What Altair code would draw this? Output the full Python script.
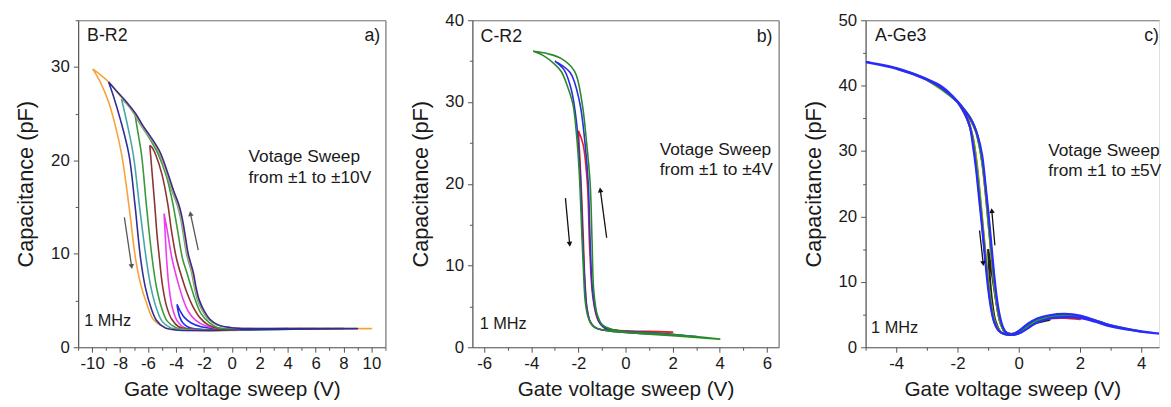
import altair as alt
import pandas as pd

FONT = "Liberation Sans"
AX = "#555555"
FRAME = "#7a7a7a"
TXT = "#1a1a1a"

# ---------------- panel a) B-R2 : sweeps +-4 ... +-10 V ----------------
A_BLUE_DOWN = [(-3.92, 4.6), (-3.85, 3.9), (-3.72, 3.2), (-3.5, 2.6), (-3.1, 2.15), (-2.5, 1.95), (-1.0, 1.85), (0, 1.9), (4, 2.0)]
A_BLUE_UP = [(4, 2.0), (0, 1.95), (-1.2, 2.0), (-2.2, 2.2), (-2.9, 2.6), (-3.4, 3.2), (-3.7, 3.9), (-3.92, 4.6)]
A_MAG_DOWN = [(-4.85, 14.3), (-4.8, 13.0), (-4.67, 9.5), (-4.5, 6.5), (-4.25, 4.2), (-3.9, 2.8), (-3.4, 2.1), (-2.5, 1.9), (-1.0, 1.85), (0, 1.9), (5, 2.0)]
A_MAG_UP = [(5, 2.0), (0, 1.95), (-1.0, 2.0), (-1.9, 2.3), (-2.6, 2.9), (-3.1, 3.8), (-3.5, 5.2), (-3.9, 7.2), (-4.28, 9.5), (-4.6, 12.3), (-4.78, 13.8), (-4.85, 14.3)]
A_BROWN_DOWN = [(-5.87, 21.6), (-5.78, 20.0), (-5.52, 15.3), (-5.35, 12.0), (-5.18, 9.5), (-4.95, 6.5), (-4.65, 4.3), (-4.3, 3.0), (-3.8, 2.2), (-3.0, 1.95), (-1.5, 1.85), (0, 1.9), (6, 2.0)]
A_BROWN_UP = [(6, 2.0), (0, 1.95), (-1.0, 2.05), (-1.7, 2.4), (-2.3, 3.2), (-2.8, 4.4), (-3.2, 5.8), (-3.6, 7.6), (-3.96, 9.5), (-4.32, 12.5), (-4.58, 15.3), (-5.0, 18.5), (-5.45, 20.6), (-5.72, 21.4), (-5.87, 21.6)]
A_GREEN_DOWN = [(-6.94, 25.0), (-6.72, 23.0), (-6.46, 20.6), (-6.1, 15.0), (-5.7, 9.5), (-5.4, 6.5), (-5.02, 4.2), (-4.62, 2.8), (-4.0, 2.1), (-3.0, 1.9), (-1.5, 1.8), (0, 1.85), (7, 2.0)]
A_GREEN_UP = [(7, 2.0), (0, 1.95), (-1.0, 2.1), (-1.6, 2.6), (-2.2, 3.6), (-2.6, 5.0), (-2.92, 6.5), (-3.22, 8.0), (-3.53, 9.5), (-3.88, 12.5), (-4.21, 15.3), (-4.68, 18.3), (-5.25, 20.6), (-5.95, 22.5), (-6.5, 23.8), (-6.94, 25.0)]
A_TEAL_DOWN = [(-7.9, 26.6), (-7.5, 24.0), (-7.05, 20.6), (-6.6, 15.0), (-6.13, 9.5), (-5.8, 6.5), (-5.4, 4.2), (-5.0, 2.8), (-4.4, 2.1), (-3.5, 1.9), (-1.5, 1.8), (0, 1.85), (8, 2.0)]
A_TEAL_UP = [(8, 2.0), (1.3, 2.0), (-0.12, 2.1), (-1.07, 2.4), (-1.68, 3.0), (-2.1, 3.9), (-2.46, 5.1), (-2.69, 6.5), (-2.86, 7.9), (-3.06, 9.0), (-3.24, 10.0), (-3.46, 12.0), (-3.68, 13.9), (-3.92, 15.3), (-4.27, 16.7), (-4.76, 18.9), (-5.26, 20.9), (-5.96, 22.6), (-6.52, 23.8), (-7.0, 25.0), (-7.5, 26.0), (-7.9, 26.6)]
A_ORANGE_DOWN = [(-9.96, 29.8), (-9.42, 28.4), (-8.82, 26.25), (-8.35, 23.8), (-7.88, 20.6), (-7.35, 15.0), (-6.89, 9.5), (-6.5, 6.6), (-6.11, 4.76), (-5.63, 3.0), (-5.04, 2.3), (-4.5, 1.95), (-3.0, 1.8), (-1.0, 1.75), (0, 1.8), (1.0, 1.9), (2.0, 2.0), (10.0, 2.0)]
A_ORANGE_UP = [(10.0, 2.0), (2.0, 2.0), (1.34, 2.0), (-0.08, 2.1), (-1.02, 2.4), (-1.62, 3.0), (-2.04, 3.9), (-2.4, 5.1), (-2.63, 6.5), (-2.8, 7.9), (-3.0, 9.0), (-3.18, 10.0), (-3.4, 12.0), (-3.62, 13.9), (-3.86, 15.3), (-4.21, 16.7), (-4.7, 18.9), (-5.2, 20.9), (-5.9, 22.6), (-6.46, 23.8), (-6.94, 25.0), (-7.5, 26.1), (-8.11, 27.1), (-8.82, 28.4), (-9.96, 29.8)]
A_NAVY_DOWN = [(-8.82, 28.4), (-8.5, 27.0), (-8.0, 24.5), (-7.36, 20.6), (-6.95, 15.5), (-6.53, 9.5), (-6.2, 6.5), (-5.8, 4.3), (-5.4, 2.9), (-4.8, 2.1), (-4.0, 1.85), (-2.0, 1.8), (0, 1.85), (9.0, 2.0)]
A_NAVY_UP = [(9.0, 2.0), (2.0, 2.0), (1.34, 2.0), (-0.05, 2.1), (-0.98, 2.4), (-1.57, 3.0), (-1.98, 3.9), (-2.34, 5.1), (-2.57, 6.5), (-2.74, 7.9), (-2.94, 9.0), (-3.12, 10.0), (-3.34, 12.0), (-3.56, 13.9), (-3.8, 15.3), (-4.15, 16.7), (-4.64, 18.9), (-5.14, 20.9), (-5.84, 22.6), (-6.4, 23.8), (-6.88, 25.0), (-7.45, 26.1), (-8.05, 27.1), (-8.82, 28.4)]

A_CURVES = [
    ("a1", "#1e2ee6", A_BLUE_DOWN, A_BLUE_UP),
    ("a2", "#ee3cee", A_MAG_DOWN, A_MAG_UP),
    ("a3", "#8e3434", A_BROWN_DOWN, A_BROWN_UP),
    ("a4", "#3a9a3a", A_GREEN_DOWN, A_GREEN_UP),
    ("a5", "#45a8a8", A_TEAL_DOWN, A_TEAL_UP),
    ("a6", "#f7a33a", A_ORANGE_DOWN, A_ORANGE_UP),
    ("a7", "#2e2e96", A_NAVY_DOWN, A_NAVY_UP),
]
A_X_MAJOR = [-10, -8, -6, -4, -2, 0, 2, 4, 6, 8, 10]
A_X_MINOR = [-11, -9, -7, -5, -3, -1, 1, 3, 5, 7, 9, 11]
A_Y_MAJOR = [0, 10, 20, 30]
A_Y_MINOR = [5, 15, 25, 35]
A_TEXT_L = [("B-R2", -10.36, 33.3), ("Votage Sweep", 1.2, 20.4), ("from \u00b11 to \u00b110V", 1.2, 18.1), ("1 MHz", -10.57, 2.85)]
A_TEXT_L_SIZE = [18, 17.5, 17.5, 16.5]
A_TEXT_R = [("a)", 10.63, 33.3)]
A_ARROWS = [(-7.69, 13.9, -7.17, 8.64), (-2.40, 10.4, -2.96, 14.3)]
A_ARROW_ANGLE = [172, 348]

# ---------------- panel b) C-R2 : sweeps +-1 ... +-4 V ----------------
B_BLACK_DOWN = [(-1.0, 2.6), (-0.8, 2.2), (-0.4, 2.0), (0, 1.9), (0.5, 1.85), (1, 1.8)]
B_BLACK_UP = [(1, 1.8), (0.5, 1.9), (0, 1.95), (-0.5, 2.1), (-0.8, 2.35), (-1.0, 2.6)]
B_RED_DOWN = [(-2.0, 26.5), (-1.9, 21.0), (-1.8, 14.0), (-1.72, 8.0), (-1.62, 4.5), (-1.45, 2.8), (-1.1, 2.2), (0, 1.95), (1, 1.9), (2, 1.85)]
B_RED_UP = [(2, 1.85), (1, 1.95), (0.2, 2.0), (-0.8, 2.3), (-1.15, 3.2), (-1.38, 6.0), (-1.52, 12.0), (-1.62, 20.0), (-1.8, 24.8), (-2.0, 26.5)]
B_BLUE_DOWN = [(-3.0, 35.0), (-2.6, 33.9), (-2.3, 31.5), (-2.08, 27.5), (-1.92, 21.0), (-1.82, 13.6), (-1.74, 8.5), (-1.65, 5.0), (-1.52, 3.3), (-1.3, 2.4), (-0.9, 2.1), (0, 1.8), (1, 1.65), (2, 1.5), (3, 1.3)]
B_BLUE_UP = [(3, 1.3), (2, 1.6), (1, 1.8), (0, 1.95), (-0.7, 2.2), (-1.05, 2.8), (-1.25, 4.2), (-1.4, 7.0), (-1.5, 13.0), (-1.58, 20.0), (-1.72, 25.0), (-1.95, 30.0), (-2.35, 33.6), (-3.0, 35.0)]
B_GREEN_DOWN = [(-3.92, 36.2), (-3.5, 35.7), (-3.0, 34.6), (-2.72, 33.7), (-2.45, 31.8), (-2.23, 29.7), (-2.08, 26.0), (-1.97, 21.7), (-1.85, 13.6), (-1.78, 9.0), (-1.71, 5.6), (-1.6, 3.8), (-1.46, 2.9), (-1.2, 2.3), (-0.9, 2.1), (0, 1.8), (1, 1.6), (2, 1.4), (3, 1.2), (4, 1.0)]
B_GREEN_UP = [(4, 1.0), (3, 1.3), (2, 1.55), (1, 1.75), (0, 1.9), (-0.6, 2.2), (-1.0, 2.8), (-1.2, 4.0), (-1.35, 7.0), (-1.42, 13.0), (-1.5, 20.0), (-1.65, 25.0), (-1.85, 30.0), (-2.16, 33.75), (-2.72, 35.3), (-3.3, 35.9), (-3.92, 36.2)]

B_CURVES = [
    ("b1", "#222222", B_BLACK_DOWN, B_BLACK_UP),
    ("b2", "#e02424", B_RED_DOWN, B_RED_UP),
    ("b3", "#2c2ce0", B_BLUE_DOWN, B_BLUE_UP),
    ("b4", "#2a8a2a", B_GREEN_DOWN, B_GREEN_UP),
]
B_X_MAJOR = [-6, -4, -2, 0, 2, 4, 6]
B_X_MINOR = [-5, -3, -1, 1, 3, 5]
B_Y_MAJOR = [0, 10, 20, 30, 40]
B_Y_MINOR = [5, 15, 25, 35]
B_TEXT_L = [("C-R2", -6.15, 38.0), ("Votage Sweep", 1.45, 24.1), ("from \u00b11 to \u00b14V", 1.45, 21.7), ("1 MHz", -6.19, 2.82)]
B_TEXT_L_SIZE = [18, 17.5, 17.5, 16.5]
B_TEXT_R = [("b)", 6.24, 38.0)]
B_ARROWS = [(-2.55, 18.25, -2.37, 12.6), (-0.80, 13.4, -1.07, 19.25)]
B_ARROW_ANGLE = [175, 352]

# ---------------- panel c) A-Ge3 : sweeps +-1 ... +-5 V ----------------
C_BLACK_DOWN = [(-1.0, 15.0), (-0.95, 11.0), (-0.87, 7.0), (-0.76, 4.0), (-0.58, 2.3), (-0.25, 1.95), (0, 2.2), (0.5, 3.6), (1, 4.2)]
C_BLACK_UP = [(1, 4.2), (0.5, 3.7), (0, 2.3), (-0.25, 2.0), (-0.45, 2.4), (-0.6, 3.8), (-0.72, 6.5), (-0.85, 10.5), (-1.0, 15.0)]
C_RED_DOWN = [(-2, 37.5), (-1.7, 35.1), (-1.52, 32.5), (-1.4, 29.0), (-1.3, 24.5), (-1.2, 19.5), (-1.1, 14.5), (-1.0, 10.0), (-0.9, 6.3), (-0.78, 3.7), (-0.58, 2.3), (-0.25, 1.95), (0, 2.2), (0.5, 3.7), (1, 4.4), (1.5, 4.5), (2, 4.3)]
C_RED_UP = [(2, 4.3), (1.5, 4.7), (1, 4.6), (0.5, 3.8), (0, 2.35), (-0.25, 2.0), (-0.45, 2.35), (-0.58, 3.5), (-0.68, 5.5), (-0.78, 8.8), (-0.88, 13.5), (-0.98, 18.5), (-1.08, 23.5), (-1.2, 28.5), (-1.38, 32.8), (-1.65, 35.3), (-2, 37.5)]
C_OLIVE_DOWN = [(-3, 40.9), (-2, 37.5), (-1.7, 35.1), (-1.5, 32.0), (-1.38, 28.5), (-1.28, 24.0), (-1.18, 19.0), (-1.08, 14.0), (-0.98, 9.5), (-0.88, 6.0), (-0.75, 3.5), (-0.55, 2.2), (-0.25, 1.95), (0, 2.2), (0.5, 3.7), (1, 4.5), (2, 4.6), (3, 3.3)]
C_OLIVE_UP = [(3, 3.3), (2, 4.7), (1, 4.7), (0.5, 3.9), (0, 2.4), (-0.25, 2.0), (-0.45, 2.4), (-0.6, 3.8), (-0.7, 6.0), (-0.8, 9.5), (-0.9, 14.5), (-1.0, 19.5), (-1.1, 24.5), (-1.22, 29.0), (-1.4, 33.0), (-1.65, 35.4), (-2, 37.55), (-3, 40.9)]
C_GREEN_DOWN = [(-4, 42.6), (-3, 40.9), (-2, 37.5), (-1.7, 35.2), (-1.55, 33.0), (-1.45, 30.0), (-1.35, 26.0), (-1.25, 21.5), (-1.15, 16.5), (-1.05, 11.8), (-0.95, 7.8), (-0.85, 4.9), (-0.72, 3.0), (-0.5, 2.05), (-0.25, 1.9), (0, 2.15), (0.5, 3.6), (1, 4.5), (2, 4.6), (3, 3.3), (4, 2.4)]
C_GREEN_UP = [(4, 2.4), (3, 3.35), (2, 4.75), (1, 4.8), (0.5, 4.0), (0, 2.4), (-0.25, 2.0), (-0.45, 2.3), (-0.55, 3.2), (-0.65, 5.0), (-0.75, 8.0), (-0.85, 12.5), (-0.95, 17.5), (-1.05, 22.5), (-1.15, 27.0), (-1.28, 30.8), (-1.45, 33.8), (-1.7, 35.9), (-2, 37.5), (-3, 40.95), (-4, 42.6)]
C_BLUE_DOWN = [(-5, 43.6), (-4, 42.6), (-3, 40.9), (-2.5, 39.6), (-2, 37.5), (-1.75, 35.6), (-1.6, 33.8), (-1.5, 31.0), (-1.4, 27.5), (-1.3, 23.0), (-1.2, 18.5), (-1.1, 13.5), (-1.0, 9.0), (-0.9, 5.8), (-0.8, 3.8), (-0.65, 2.5), (-0.45, 2.0), (-0.25, 1.9), (0, 2.1), (0.3, 2.9), (0.6, 3.8), (1.0, 4.4), (1.5, 4.6), (2.0, 4.5), (2.5, 3.9), (3.0, 3.2), (4.0, 2.4), (5.0, 1.9)]
C_BLUE_UP = [(5.0, 1.9), (4.0, 2.45), (3.0, 3.35), (2.5, 4.1), (2.0, 4.85), (1.5, 5.1), (1.0, 4.9), (0.6, 4.4), (0.3, 3.6), (0, 2.5), (-0.2, 2.0), (-0.4, 2.2), (-0.5, 2.9), (-0.6, 4.4), (-0.7, 7.0), (-0.8, 11.0), (-0.9, 16.0), (-1.0, 21.0), (-1.1, 25.5), (-1.2, 29.5), (-1.35, 32.5), (-1.55, 34.8), (-1.8, 36.4), (-2.0, 37.6), (-2.5, 39.8), (-3, 41.0), (-4, 42.7), (-5, 43.6)]

C_CURVES = [
    ("c1", "#222222", C_BLACK_DOWN, C_BLACK_UP),
    ("c2", "#e02424", C_RED_DOWN, C_RED_UP),
    ("c3", "#9a9a10", C_OLIVE_DOWN, C_OLIVE_UP),
    ("c4", "#22a022", C_GREEN_DOWN, C_GREEN_UP),
    ("c5", "#2a2aff", C_BLUE_DOWN, C_BLUE_UP),
]
C_X_MAJOR = [-4, -2, 0, 2, 4]
C_X_MINOR = [-5, -3, -1, 1, 3]
C_Y_MAJOR = [0, 10, 20, 30, 40, 50]
C_Y_MINOR = [5, 15, 25, 35, 45]
C_TEXT_L = [("A-Ge3", -4.69, 47.6), ("Votage Sweep", 0.96, 30.05), ("from \u00b11 to \u00b15V", 0.96, 26.9), ("1 MHz", -4.82, 3.0)]
C_TEXT_L_SIZE = [18, 17.5, 17.5, 16.5]
C_TEXT_R = [("c)", 4.58, 47.6)]
C_ARROWS = [(-1.28, 17.85, -1.16, 12.8), (-0.78, 15.6, -0.88, 20.9)]
C_ARROW_ANGLE = [174, 354]


def frame_axis(orient):
    return alt.Axis(orient=orient, values=[0], ticks=False, labels=False, domain=True,
                    domainColor=FRAME, domainWidth=1.2, grid=False, title=None)


def panel(curves, xdom, ydom, xmaj, xmin, ymaj, ymin, w, h, tl, tl_size, tr,
          arrows, angles, acolor, line_w, right_frame=True, ytp=13):
    xs = alt.Scale(domain=xdom, nice=False, zero=False)
    ys = alt.Scale(domain=ydom, nice=False, zero=False)

    xaxis = alt.Axis(
        orient="bottom", values=xmaj, title="Gate voltage sweep (V)", tickSize=5, tickColor=AX,
        domainColor=AX, domainWidth=1.2, labelFont=FONT, labelFontSize=17, labelColor=TXT,
        labelPadding=3, labelExpr="'' + datum.value", labelFlush=False, labelOverlap=False,
        grid=False, titleFont=FONT, titleFontSize=21, titleFontWeight="normal",
        titleColor=TXT, titlePadding=8)
    yaxis = alt.Axis(
        orient="left", values=ymaj, title="Capacitance (pF)", tickSize=5, tickColor=AX,
        domainColor=AX, domainWidth=1.2, labelFont=FONT, labelFontSize=17, labelColor=TXT,
        labelPadding=4, labelExpr="'' + datum.value", labelFlush=False, labelOverlap=False,
        grid=False, titleFont=FONT, titleFontSize=22, titleFontWeight="normal",
        titleColor=TXT, titlePadding=ytp)

    layers = []
    for k, (name, color, down, up) in enumerate(curves):
        pts = down + up
        cdf = pd.DataFrame({"x": [p[0] for p in pts], "C": [p[1] for p in pts],
                            "ord": list(range(len(pts)))})
        layers.append(
            alt.Chart(cdf).mark_line(clip=True, strokeWidth=line_w, color=color,
                                     interpolate="catmull-rom", strokeJoin="round").encode(
                x=alt.X("x:Q", scale=xs, axis=xaxis if k == 0 else None),
                y=alt.Y("C:Q", scale=ys, axis=yaxis if k == 0 else None),
                order="ord:Q"))

    corners = pd.DataFrame({"x": [xdom[0], xdom[1]], "C": [ydom[0], ydom[1]]})
    minor = alt.Chart(corners).mark_point(opacity=0).encode(
        x=alt.X("x:Q", scale=xs, axis=alt.Axis(orient="bottom", values=xmin, labels=False, domain=False,
                                                tickSize=3, tickColor=AX, grid=False, title=None)),
        y=alt.Y("C:Q", scale=ys, axis=alt.Axis(orient="left", values=ymin, labels=False, domain=False,
                                                tickSize=3, tickColor=AX, grid=False, title=None)),
    )
    frame = alt.Chart(corners).mark_point(opacity=0).encode(
        x=alt.X("x:Q", scale=xs, axis=frame_axis("top")),
        y=alt.Y("C:Q", scale=ys, axis=frame_axis("right") if right_frame else None),
    )

    adf = pd.DataFrame([{"x": a[0], "C": a[1], "x2": a[2], "C2": a[3], "ang": g}
                        for a, g in zip(arrows, angles)])
    shafts = alt.Chart(adf).mark_rule(color=acolor, strokeWidth=1.3).encode(
        x=alt.X("x:Q", scale=xs, axis=None), y=alt.Y("C:Q", scale=ys, axis=None),
        x2="x2:Q", y2="C2:Q")
    heads = alt.Chart(adf).mark_point(shape="triangle-up", filled=True, size=32, color=acolor, opacity=1).encode(
        x=alt.X("x2:Q", scale=xs, axis=None), y=alt.Y("C2:Q", scale=ys, axis=None),
        angle=alt.Angle("ang:Q", scale=None))

    tdf = pd.DataFrame([{"t": t[0], "x": t[1], "C": t[2], "fs": s} for t, s in zip(tl, tl_size)])
    texts_l = alt.Chart(tdf).mark_text(align="left", baseline="middle", font=FONT, color=TXT).encode(
        x=alt.X("x:Q", scale=xs, axis=None), y=alt.Y("C:Q", scale=ys, axis=None),
        text="t:N", size=alt.Size("fs:Q", scale=None, legend=None))
    rdf = pd.DataFrame([{"t": t[0], "x": t[1], "C": t[2]} for t in tr])
    texts_r = alt.Chart(rdf).mark_text(align="right", baseline="middle", font=FONT, color=TXT, fontSize=18).encode(
        x=alt.X("x:Q", scale=xs, axis=None), y=alt.Y("C:Q", scale=ys, axis=None), text="t:N")

    return alt.layer(*layers, minor, frame, shafts, heads, texts_l, texts_r).resolve_axis(
        x="independent", y="independent").properties(width=w, height=h)


pa = panel(A_CURVES, [-11, 11], [0, 35], A_X_MAJOR, A_X_MINOR, A_Y_MAJOR, A_Y_MINOR, 311, 331,
           A_TEXT_L, A_TEXT_L_SIZE, A_TEXT_R, A_ARROWS, A_ARROW_ANGLE, "#555555", 1.6)
pb = panel(B_CURVES, [-6.5, 6.5], [0, 40], B_X_MAJOR, B_X_MINOR, B_Y_MAJOR, B_Y_MINOR, 310, 331,
           B_TEXT_L, B_TEXT_L_SIZE, B_TEXT_R, B_ARROWS, B_ARROW_ANGLE, "#111111", 1.6)
pc = panel(C_CURVES, [-5, 4.58], [0, 50], C_X_MAJOR, C_X_MINOR, C_Y_MAJOR, C_Y_MINOR, 297, 331,
           C_TEXT_L, C_TEXT_L_SIZE, C_TEXT_R, C_ARROWS, C_ARROW_ANGLE, "#111111", 2.2, right_frame=False)

chart = alt.hconcat(pa, pb, pc, spacing=19).properties(
    padding={"left": 6, "top": 0, "right": 0, "bottom": 0}
).configure_view(stroke=None).configure(background="white")

chart.save("out.html", embed_options={"renderer": "svg", "actions": False})
